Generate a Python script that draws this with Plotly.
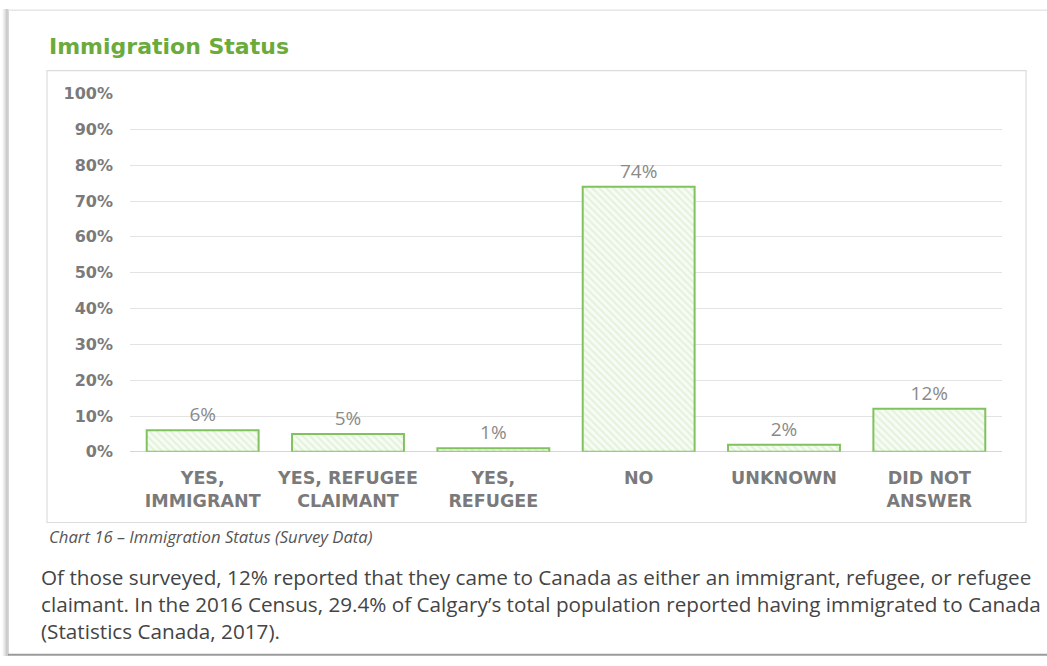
import plotly.graph_objects as go

W, H = 1047, 666

categories = ["YES,<br>IMMIGRANT", "YES, REFUGEE<br>CLAIMANT", "YES,<br>REFUGEE",
              "NO", "UNKNOWN", "DID NOT<br>ANSWER"]
values = [6, 5, 1, 74, 2, 12]
y_ticks = [0, 10, 20, 30, 40, 50, 60, 70, 80, 90, 100]
y_tick_labels = [f"{t}%" for t in y_ticks]

title_text = "Immigration Status"
caption_text = "Chart 16 – Immigration Status (Survey Data)"
body_lines = [
    "Of those surveyed, 12% reported that they came to Canada as either an immigrant, refugee, or refugee",
    "claimant. In the 2016 Census, 29.4% of Calgary’s total population reported having immigrated to Canada",
    "(Statistics Canada, 2017).",
]

GREEN = "#6aab3c"
BAR_LINE = "#80c35e"
GRAY_TXT = "#7a7a7a"
HEAD_FONT = "DejaVu Sans"

# vertical placement helper: the page sits 8px down and is slightly squeezed
Y_OFF, Y_SCALE = 8.1, 0.976


def px_x(x):
    return x / W


def px_y(y):
    fy = (y - Y_OFF) / Y_SCALE
    return min(1.0, max(0.0, 1 - fy / H))


# plot area in pixels
PL, PR, PT, PB = 130, 1002, 93, 453

fig = go.Figure()
fig.add_trace(go.Bar(
    x=categories,
    y=values,
    text=[f"{v}%" for v in values],
    textposition="outside",
    textfont=dict(family="Open Sans", size=19, color="#8a8a8a"),
    cliponaxis=False,
    marker=dict(
        color="#f4faf0",
        line=dict(color=BAR_LINE, width=2),
        pattern=dict(shape="\\", fgcolor="#cde8bd", bgcolor="#f6fbf3",
                     size=5, solidity=0.35),
    ),
    showlegend=False,
))

fig.update_layout(
    width=W, height=H,
    margin=dict(l=0, r=0, t=0, b=0),
    paper_bgcolor="white",
    plot_bgcolor="white",
    bargap=0.23,
    xaxis=dict(
        domain=[px_x(PL), px_x(PR)],
        showgrid=False, showline=False, zeroline=False,
        ticks="", ticklabelstandoff=14,
        tickfont=dict(family=HEAD_FONT, size=17.5, color=GRAY_TXT, weight="bold"),
    ),
    yaxis=dict(
        domain=[px_y(PB), px_y(PT)],
        range=[0, 100],
        tickvals=y_ticks, ticktext=y_tick_labels,
        showgrid=True, gridcolor="#e3e3e3", gridwidth=1,
        zeroline=True, zerolinecolor="#d6d6d6", zerolinewidth=1,
        showline=False, ticks="", ticklabelstandoff=16,
        tickfont=dict(family=HEAD_FONT, size=16, color=GRAY_TXT, weight="bold"),
    ),
    font=dict(family="Open Sans"),
)

shapes = []
# page shadow on the left
for i, op in enumerate([0.05, 0.08, 0.12, 0.18, 0.25]):
    x = 3 + i
    shapes.append(dict(type="line", xref="paper", yref="paper",
                       x0=px_x(x), x1=px_x(x), y0=px_y(8), y1=px_y(666),
                       line=dict(color=f"rgba(0,0,0,{op})", width=1)))
# page frame
shapes.append(dict(type="line", xref="paper", yref="paper",
                   x0=px_x(8), x1=px_x(8), y0=px_y(8), y1=px_y(663),
                   line=dict(color="#c8c8c8", width=1.5)))
shapes.append(dict(type="line", xref="paper", yref="paper",
                   x0=px_x(8), x1=1, y0=0.998, y1=0.998,
                   line=dict(color="#e6e6e6", width=1.5)))
shapes.append(dict(type="line", xref="paper", yref="paper",
                   x0=px_x(8), x1=1, y0=0.002, y1=0.002,
                   line=dict(color="#9a9a9a", width=2)))
# chart box
shapes.append(dict(type="rect", xref="paper", yref="paper",
                   x0=px_x(47), x1=px_x(1026), y0=px_y(524), y1=px_y(70),
                   line=dict(color="#dcdcdc", width=1.2), fillcolor="rgba(0,0,0,0)",
                   layer="below"))
fig.update_layout(shapes=shapes)

annotations = [
    dict(text=title_text, xref="paper", yref="paper",
         x=px_x(47), y=px_y(46), xanchor="left", yanchor="middle", showarrow=False,
         font=dict(family=HEAD_FONT, size=22, color=GREEN, weight="bold")),
    dict(text=f"<i>{caption_text}</i>", xref="paper", yref="paper",
         x=px_x(47), y=px_y(538), xanchor="left", yanchor="middle", showarrow=False,
         font=dict(family="Open Sans", size=16.7, color="#555555")),
    dict(text="<br>".join(body_lines), xref="paper", yref="paper",
         x=px_x(39), y=px_y(606), xanchor="left", yanchor="middle", align="left",
         showarrow=False,
         font=dict(family="Open Sans", size=20.7, color="#444444")),
]
fig.update_layout(annotations=annotations)

fig.write_html("out.html")
